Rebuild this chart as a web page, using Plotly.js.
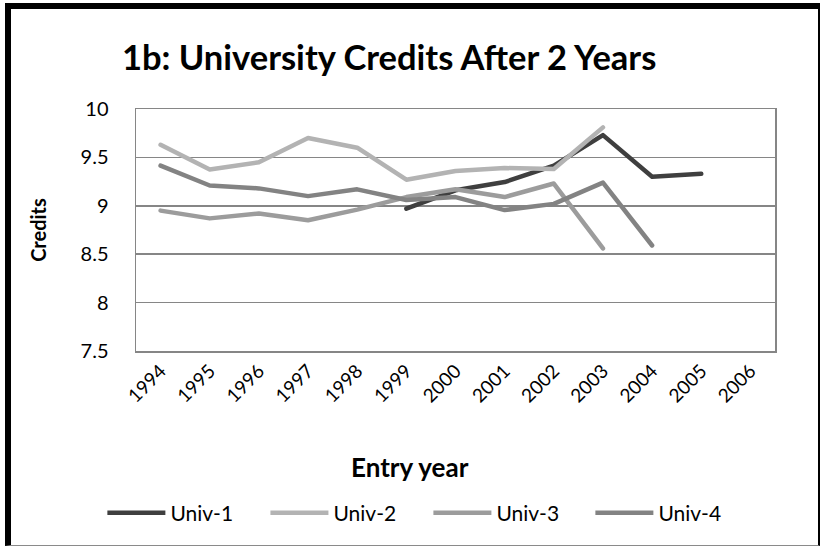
<!DOCTYPE html>
<html>
<head>
<meta charset="utf-8">
<script src="https://cdn.plot.ly/plotly-3.0.1.min.js"></script>
<style>
  html, body { margin: 0; padding: 0; background: #fff; overflow: hidden; }
  #chart { position: absolute; left: 0; top: 0; width: 821px; height: 547px; }
  #frame { position: absolute; left: 5px; top: 3px; width: 815px; height: 543px; box-sizing: border-box;
           border-left: 6px solid #000; border-top: 6px solid #000; border-right: 2px solid #000;
           border-bottom: 1px solid #8a8a8a; pointer-events: none; }
  .scatterlayer path.js-line { stroke-linecap: round; stroke-linejoin: round; }
</style>
</head>
<body>
<div id="chart"></div>
<div id="frame"></div>
<script>
const years = ["1994","1995","1996","1997","1998","1999","2000","2001","2002","2003","2004","2005","2006"];
const seriesNames = ["Univ-1", "Univ-2", "Univ-3", "Univ-4"];
const univ1 = [null, null, null, null, null, 8.97, 9.16, 9.245, 9.415, 9.73, 9.30, 9.33, null];
const univ2 = [9.63, 9.375, 9.45, 9.70, 9.60, 9.27, 9.36, 9.39, 9.38, 9.81, null, null, null];
const univ3 = [8.95, 8.87, 8.92, 8.85, 8.96, 9.09, 9.17, 9.09, 9.23, 8.56, null, null, null];
const univ4 = [9.415, 9.21, 9.18, 9.10, 9.17, 9.06, 9.09, 8.956, 9.02, 9.24, 8.59, null, null];
const seriesValues = [univ1, univ2, univ3, univ4];
const seriesColors = ["#3f3f3f", "#b3b3b3", "#9c9c9c", "#838383"];

const FONT = "Lato, 'Open Sans', sans-serif";
const legendIds = ["legend", "legend2", "legend3", "legend4"];
const legendX = [0.1247, 0.3233, 0.5218, 0.7191];

const traces = seriesValues.map((vals, i) => ({
  type: "scatter",
  mode: "lines",
  name: seriesNames[i],
  legend: legendIds[i],
  showlegend: true,
  x: years,
  y: vals,
  connectgaps: false,
  line: { color: seriesColors[i], width: 4.5 },
  hoverinfo: "x+y+name"
}));

const layout = {
  width: 821,
  height: 547,
  showlegend: true,
  margin: { l: 136, r: 46, t: 109, b: 196, pad: 0 },
  paper_bgcolor: "rgba(0,0,0,0)",
  plot_bgcolor: "#ffffff",
  font: { family: FONT, color: "#000", size: 18 },
  title: {
    text: "<b>1b: University Credits After 2 Years</b>",
    font: { family: FONT, size: 34.5, color: "#000" },
    xref: "container", yref: "container",
    x: 0.474, xanchor: "center",
    y: 0.895, yanchor: "middle"
  },
  xaxis: {
    type: "category",
    range: [-0.5, 12.5],
    tickangle: -45,
    showgrid: false,
    zeroline: false,
    showline: true, linecolor: "#868686", linewidth: 1.5, mirror: true,
    ticks: "",
    tickfont: { family: FONT, size: 19, color: "#000" },
    automargin: false
  },
  yaxis: {
    range: [7.5, 10],
    dtick: 0.5,
    tick0: 7.5,
    showgrid: true, gridcolor: "#868686", gridwidth: 1.5,
    zeroline: false,
    showline: true, linecolor: "#868686", linewidth: 1.5, mirror: true,
    ticks: "outside", ticklen: 22, tickcolor: "rgba(0,0,0,0)",
    tickfont: { family: FONT, size: 20, color: "#000" },
    automargin: false,
    title: { text: "<b>Credits</b>", font: { family: FONT, size: 20, color: "#000" }, standoff: 28 }
  },
  annotations: [{
    text: "<b>Entry year</b>",
    xref: "paper", yref: "paper",
    x: (410 - 136) / 639, y: (351 - 467) / 242,
    xanchor: "center", yanchor: "middle",
    showarrow: false,
    font: { family: FONT, size: 26, color: "#000" }
  }]
};

legendIds.forEach((id, i) => {
  layout[id] = {
    visible: true,
    orientation: "h",
    xref: "container", yref: "container",
    x: legendX[i], xanchor: "left",
    y: 0.062, yanchor: "middle",
    itemwidth: 58,
    font: { family: FONT, size: 21, color: "#000" },
    bgcolor: "rgba(0,0,0,0)"
  };
});

Plotly.newPlot("chart", traces, layout, { displayModeBar: false, staticPlot: true });
</script>
</body>
</html>
